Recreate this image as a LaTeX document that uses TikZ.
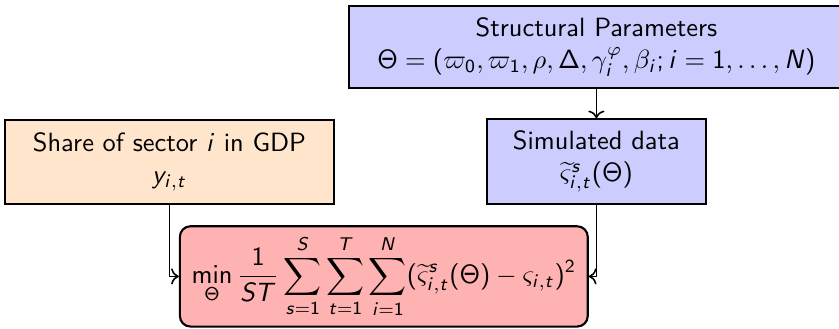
\documentclass[tikz,border=0pt]{standalone}
\usepackage{amsmath}
\usepackage{amssymb}
\renewcommand{\familydefault}{\sfdefault}
% sans serif math: upright sans for operators, slanted sans for latin letters
\DeclareSymbolFont{sfletters}{OT1}{cmss}{m}{sl}
\SetSymbolFont{operators}{normal}{OT1}{cmss}{m}{n}
\makeatletter
\count@=`a
\loop
  \mathcode\count@=\numexpr "7000+\symsfletters*"100+\count@\relax
  \mathcode\numexpr\count@-32\relax=\numexpr "7000+\symsfletters*"100+\count@-32\relax
  \ifnum\count@<`z \advance\count@ by 1
\repeat
\makeatother
\usepackage{tikz}
\usetikzlibrary{arrows.meta, positioning}

\begin{document}
\begin{tikzpicture}[
      param/.style={draw, thick, fill=blue!20, minimum width=6.59cm, minimum height=1.09cm, align=center},
      simbox/.style={draw, thick, fill=blue!20, minimum width=2.92cm, minimum height=1.13cm, align=center},
      share/.style={draw, thick, fill=orange!20, minimum width=4.37cm, minimum height=1.12cm, align=center},
      objbox/.style={draw, thick, rounded corners, fill=red!30, minimum width=5.43cm, minimum height=1.32cm, align=center},
      arr/.style={->, semithick},
    ]
    \useasboundingbox (0,0) rectangle (11.17,-4.367);

    \node[param] (par) at (7.94,-0.626) {Structural Parameters\\$\Theta=(\varpi_0,\varpi_1,\rho,\Delta,\gamma_i^{\varphi},\beta_i;i=1,\ldots,N)$};
    \node[simbox, below=0.39cm of par] (sim) {Simulated data\\$\widetilde{\varsigma}^{s}_{i,t}(\Theta)$};
    \node[share, left=2.01cm of sim] (gdp) {Share of sector $i$ in GDP\\$y_{i,t}$};
    \node[objbox] (obj) at (5.11,-3.68) {$\displaystyle\min_{\Theta}\frac{1}{ST}\sum_{s=1}^{S}\sum_{t=1}^{T}\sum_{i=1}^{N}(\widetilde{\varsigma}^{s}_{i,t}(\Theta)-\varsigma_{i,t})^2$};

    \draw[arr] (par) -- (sim);
    \draw[arr] (gdp.south) |- (obj.west);
    \draw[arr] (sim.south) |- (obj.east);
  \end{tikzpicture}
\end{document}
